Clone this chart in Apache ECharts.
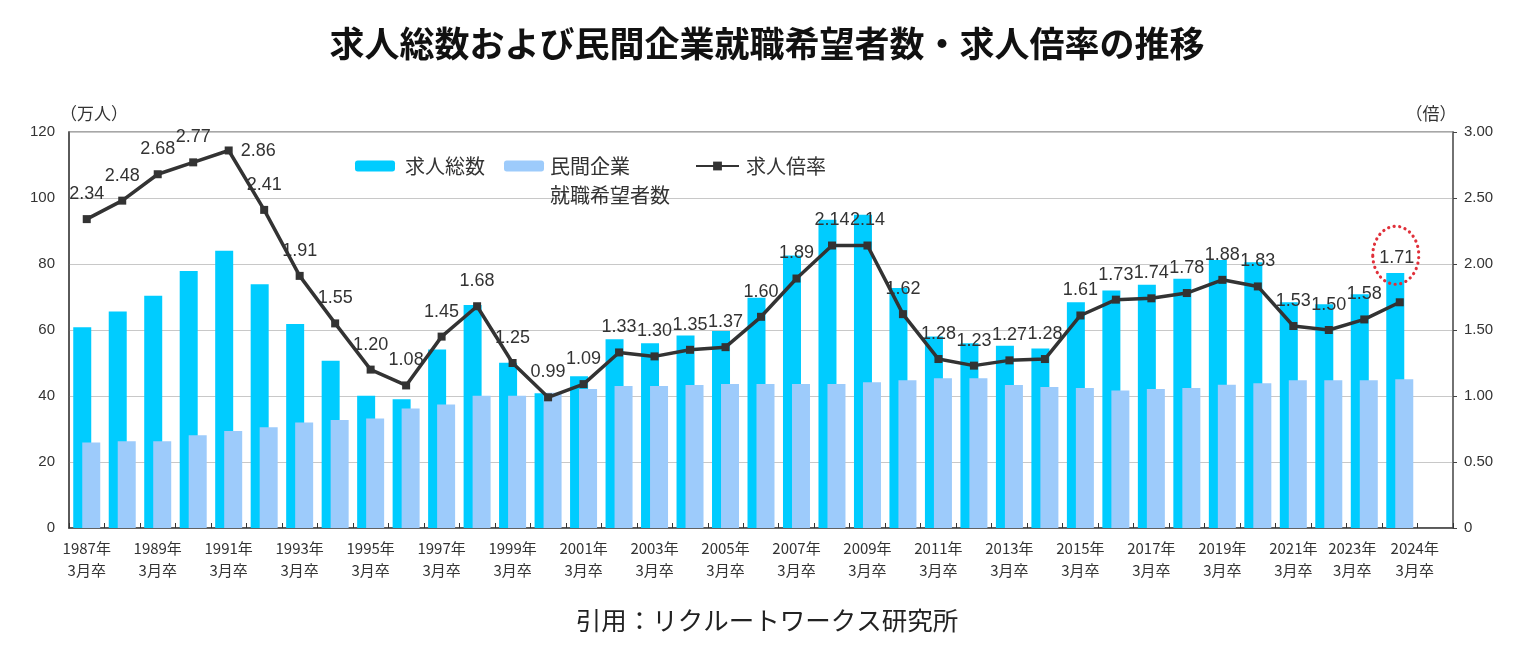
<!DOCTYPE html>
<html>
<head>
<meta charset="utf-8">
<script src="https://cdn.jsdelivr.net/npm/echarts@6/dist/echarts.min.js"></script>
<style>
html,body{margin:0;padding:0;background:#fff;}
#chart{width:1534px;height:660px;}
</style>
</head>
<body>
<div id="chart"></div>
<script>
// ---- data ----
const categories = [
  '1987年\n3月卒','1988年\n3月卒','1989年\n3月卒','1990年\n3月卒','1991年\n3月卒','1992年\n3月卒',
  '1993年\n3月卒','1994年\n3月卒','1995年\n3月卒','1996年\n3月卒','1997年\n3月卒','1998年\n3月卒',
  '1999年\n3月卒','2000年\n3月卒','2001年\n3月卒','2002年\n3月卒','2003年\n3月卒','2004年\n3月卒',
  '2005年\n3月卒','2006年\n3月卒','2007年\n3月卒','2008年\n3月卒','2009年\n3月卒','2010年\n3月卒',
  '2011年\n3月卒','2012年\n3月卒','2013年\n3月卒','2014年\n3月卒','2015年\n3月卒','2016年\n3月卒',
  '2017年\n3月卒','2018年\n3月卒','2019年\n3月卒','2020年\n3月卒','2021年\n3月卒','2022年\n3月卒',
  '2023年\n3月卒','2024年\n3月卒',''
];
// 求人総数（万人）
const totalJobs = [
  60.8, 65.6, 70.4, 77.9, 84.0, 73.9, 61.8, 50.7, 40.1, 39.0, 54.1, 67.6,
  50.1, 40.8, 46.0, 57.2, 56.0, 58.3, 59.7, 69.8, 82.6, 93.4, 94.9, 72.7,
  58.0, 56.0, 55.2, 54.4, 68.4, 72.0, 73.7, 75.5, 81.2, 80.5, 68.4, 67.8,
  70.8, 77.3
];
// 民間企業就職希望者数（万人）
const jobSeekers = [
  25.9, 26.3, 26.3, 28.1, 29.4, 30.5, 32.0, 32.7, 33.2, 36.2, 37.4, 40.1,
  40.1, 41.0, 42.1, 43.0, 43.0, 43.3, 43.6, 43.6, 43.6, 43.6, 44.2, 44.8,
  45.4, 45.4, 43.3, 42.7, 42.4, 41.7, 42.1, 42.4, 43.4, 43.9, 44.8, 44.8,
  44.8, 45.1
];
// 求人倍率（倍）
const jobRatio = [
  2.34, 2.48, 2.68, 2.77, 2.86, 2.41, 1.91, 1.55, 1.20, 1.08, 1.45, 1.68,
  1.25, 0.99, 1.09, 1.33, 1.30, 1.35, 1.37, 1.60, 1.89, 2.14, 2.14, 1.62,
  1.28, 1.23, 1.27, 1.28, 1.61, 1.73, 1.74, 1.78, 1.88, 1.83, 1.53, 1.50,
  1.58, 1.71
];
const titleText = '求人総数および民間企業就職希望者数・求人倍率の推移';
const sourceText = '引用：リクルートワークス研究所';
const seriesNames = ['求人総数', '民間企業就職希望者数', '求人倍率'];
const highlightIndex = 37; // 2024年（赤い点線で囲まれた値）

// ---- chart ----
const FONT = '"Liberation Sans","Noto Sans CJK JP",sans-serif';
const CJK = '"Noto Sans CJK JP","Liberation Sans",sans-serif';
const GRID_TOP = 132;
const chart = echarts.init(document.getElementById('chart'), null, {renderer: 'canvas'});

const xLabelRich = (p) => ({
  padding: p, fontSize: 15, fontFamily: CJK, color: '#333', lineHeight: 22
});

const option = {
  animation: false,
  backgroundColor: '#ffffff',
  textStyle: {fontFamily: FONT},
  title: [
    {text: titleText, left: 'center', top: 21,
     textStyle: {fontFamily: CJK, fontSize: 35, fontWeight: 'bold', color: '#111'}},
    {text: sourceText, left: 'center', top: 603,
     textStyle: {fontFamily: CJK, fontSize: 25.5, fontWeight: 'normal', color: '#222'}}
  ],
  grid: {left: 69, right: 81, top: GRID_TOP, bottom: 132, show: true,
         borderColor: '#8a8a8a', borderWidth: 1.5, backgroundColor: 'transparent'},
  legend: [
    {data: [seriesNames[0]], left: 355, top: 154, padding: 0, itemWidth: 40, itemHeight: 11,
     textStyle: {fontFamily: CJK, fontSize: 20, color: '#333', lineHeight: 24, padding: [0,0,0,5]}},
    {data: [seriesNames[1]], left: 504, top: 154, padding: 0, itemWidth: 40, itemHeight: 11,
     formatter: () => '民間企業',
     textStyle: {fontFamily: CJK, fontSize: 20, color: '#333', lineHeight: 24, padding: [0,0,0,1]}},
    {data: [seriesNames[2]], left: 695, top: 154, padding: 0, itemWidth: 43, itemHeight: 11,
     textStyle: {fontFamily: CJK, fontSize: 20, color: '#333', lineHeight: 24, padding: [0,0,0,2]}}
  ],
  xAxis: {
    type: 'category',
    data: categories,
    boundaryGap: true,
    axisLine: {show: true, lineStyle: {color: '#404040', width: 1.5}},
    axisTick: {show: true, inside: true, length: 5, interval: 0, lineStyle: {color: '#333'}},
    axisLabel: {
      interval: (i) => (i % 2 === 0 && i <= 36) || i === 37,
      hideOverlap: false,
      showMinLabel: true,
      showMaxLabel: true,
      margin: 9,
      fontSize: 15,
      lineHeight: 22,
      color: '#333',
      fontFamily: CJK,
      formatter: (v, i) => {
        if (i === 36) { const p = v.split('\n'); return '{l|' + p[0] + '}\n{l|' + p[1] + '}'; }
        if (i === 37) { const p = v.split('\n'); return '{r|' + p[0] + '}\n{r|' + p[1] + '}'; }
        return v;
      },
      rich: {
        l: xLabelRich([0, 0, 0, -24]),
        r: xLabelRich([0, -30, 0, 0])
      }
    }
  },
  yAxis: [
    {type: 'value', min: 0, max: 120, interval: 20,
     name: '（万人）', nameLocation: 'end', nameGap: 10,
     nameTextStyle: {fontFamily: CJK, fontSize: 17, color: '#333', align: 'center', padding: [0, 0, 0, 50]},
     axisLine: {show: true, lineStyle: {color: '#404040', width: 1.5}},
     axisTick: {show: false},
     axisLabel: {margin: 14, fontSize: 15, color: '#333'},
     splitLine: {show: true, lineStyle: {color: '#c8c8c8', width: 1}}},
    {type: 'value', min: 0, max: 3, interval: 0.5, position: 'right',
     name: '（倍）', nameLocation: 'end', nameGap: 10,
     nameTextStyle: {fontFamily: CJK, fontSize: 17, color: '#333', align: 'center', padding: [0, 44, 0, 0]},
     axisLine: {show: true, lineStyle: {color: '#606060', width: 1.5}},
     axisTick: {show: true, inside: false, length: 4, lineStyle: {color: '#444'}},
     axisLabel: {margin: 11, fontSize: 15, color: '#333',
                 formatter: (v) => v === 0 ? '0' : v.toFixed(2)},
     splitLine: {show: false}}
  ],
  series: [
    {name: seriesNames[0], type: 'bar', data: totalJobs, yAxisIndex: 0,
     barWidth: 18, barGap: '-50%', itemStyle: {color: '#00ccff'}, z: 2},
    {name: seriesNames[1], type: 'bar', data: jobSeekers, yAxisIndex: 0,
     barWidth: 18, barGap: '-50%', itemStyle: {color: '#9dcbfb'}, z: 3},
    {name: seriesNames[2], type: 'line', data: jobRatio, yAxisIndex: 1,
     symbol: 'rect', symbolSize: 8, showAllSymbol: true,
     lineStyle: {color: '#333', width: 3.5},
     itemStyle: {color: '#333'},
     label: {show: true, position: 'top', distance: 12, fontSize: 18, color: '#333',
             formatter: (p) => p.value.toFixed(2)},
     labelLayout: (p) => {
       // highlighted (latest) value: its label sits higher, inside the red ellipse
       if (p.dataIndex === highlightIndex) return {dx: -3, dy: -19};
       // a label far above the plot top goes to the right of its point
       if (p.labelRect.y < GRID_TOP - 10)
         return {x: p.rect.x + p.rect.width + 8, y: p.rect.y + p.rect.height / 2 + 1,
                 align: 'left', verticalAlign: 'middle'};
       // a label slightly crossing the plot top is pushed just inside it
       if (p.labelRect.y < GRID_TOP + 1) return {dy: GRID_TOP + 1 - p.labelRect.y};
       return {};
     },
     z: 5}
  ]
};
chart.setOption(option);

// dotted red ellipse around the latest ratio label
const pt = chart.convertToPixel({xAxisIndex: 0, yAxisIndex: 1}, [highlightIndex, jobRatio[highlightIndex]]);
chart.setOption({
  graphic: [
    {id: 'legendLine2', type: 'text', left: 550, top: 185,
     style: {text: '就職希望者数', fontFamily: CJK, fontSize: 20, fill: '#333'}},
    {id: 'highlight', type: 'ellipse', z: 100,
     shape: {cx: pt[0] - 4, cy: pt[1] - 47, rx: 23, ry: 29},
     style: {fill: 'none', stroke: '#e0303a', lineWidth: 3.2, lineDash: [0.1, 5.5], lineCap: 'round'}}
  ]
});
</script>
</body>
</html>
